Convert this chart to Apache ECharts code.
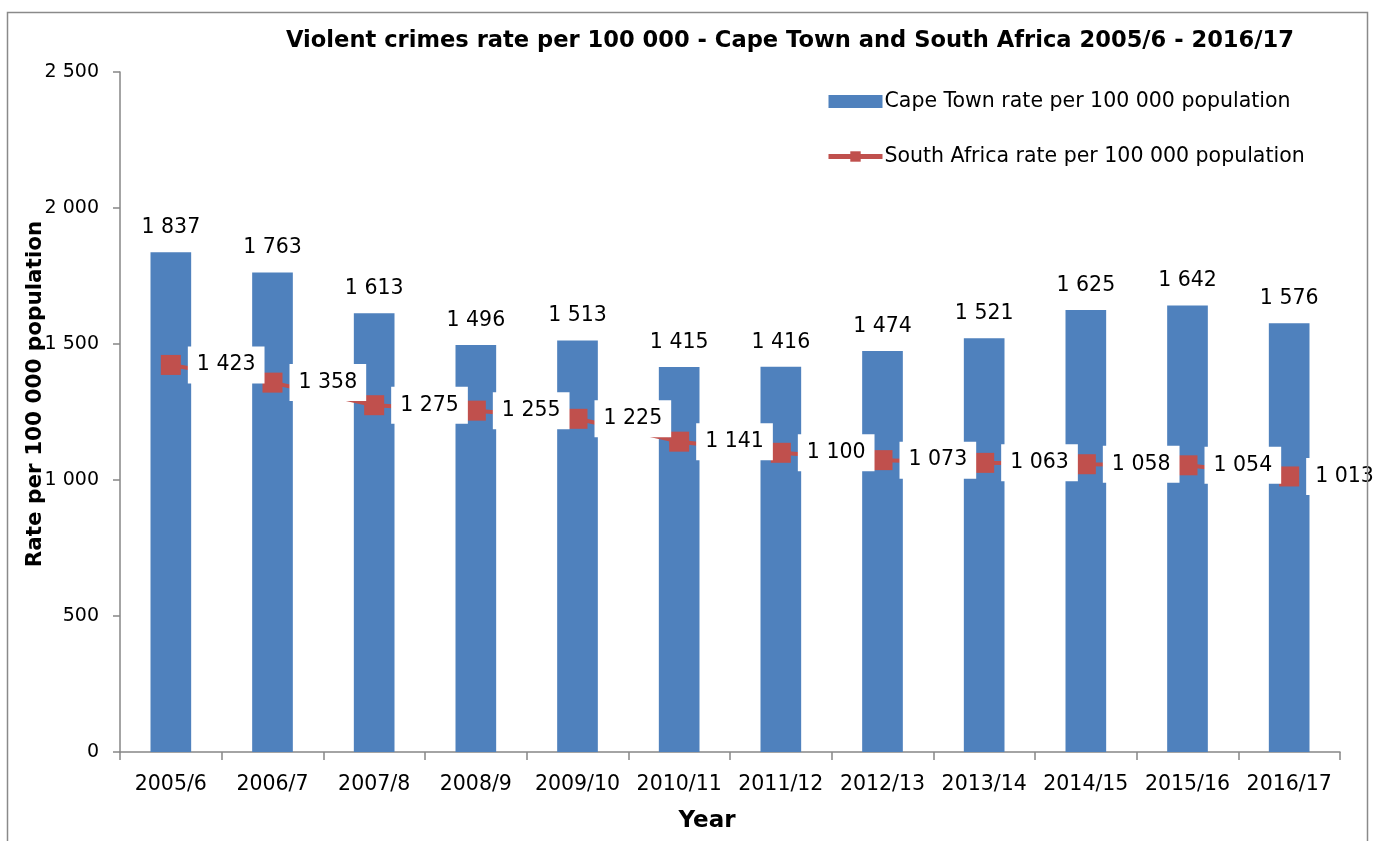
<!DOCTYPE html>
<html><head><meta charset="utf-8">
<script src="https://cdn.jsdelivr.net/npm/echarts@6/dist/echarts.min.js"></script>
<style>html,body{margin:0;padding:0;background:#fff}#c{width:1375px;height:841px}</style>
</head><body><div id="c"></div>
<script>
const categories = ['2005/6','2006/7','2007/8','2008/9','2009/10','2010/11','2011/12','2012/13','2013/14','2014/15','2015/16','2016/17'];
const capeTown = [1837,1763,1613,1496,1513,1415,1416,1474,1521,1625,1642,1576];
const southAfrica = [1423,1358,1275,1255,1225,1141,1100,1073,1063,1058,1054,1013];
const yTicks = [0,500,1000,1500,2000,2500];

const FONT = 'DejaVu Sans';
function fmt(v){ return String(v).replace(/\B(?=(\d{3})+(?!\d))/g,' '); }

const chart = echarts.init(document.getElementById('c'));
chart.setOption({
  animation:false,
  backgroundColor:'#fff',
  textStyle:{fontFamily:FONT},
  title:{
    text:'Violent crimes rate per 100 000 - Cape Town and South Africa 2005/6 - 2016/17',
    left:785, textAlign:'center', top:25,
    textStyle:{fontFamily:FONT,fontSize:22.6,fontWeight:'bold',color:'#000'}
  },
  graphic:[{
    type:'rect', shape:{x:7.5,y:12.5,width:1360,height:900},
    style:{fill:'none',stroke:'#8a8a8a',lineWidth:1.5}, silent:true, z:100
  }],
  legend:{
    orient:'vertical', left:821, top:86, itemWidth:54, itemHeight:13, itemGap:34,
    textStyle:{fontFamily:FONT,fontSize:20.5,color:'#000',padding:[0,0,0,-3]},
    data:[
      {name:'Cape Town rate per 100 000 population', icon:'rect'},
      {name:'South Africa rate per 100 000 population', lineStyle:{width:5,color:'#c0504d'}}
    ]
  },
  grid:{left:120,right:35,top:72,bottom:89,containLabel:false},
  xAxis:{
    type:'category', data:categories,
    name:'Year', nameLocation:'middle', nameGap:58, nameMoveOverlap:false,
    nameTextStyle:{fontFamily:FONT,fontSize:23,fontWeight:'bold',color:'#000',padding:[0,46,0,0]},
    axisLine:{lineStyle:{color:'#868686',width:1.5}},
    axisTick:{show:true,length:8,lineStyle:{color:'#868686',width:1.5},alignWithLabel:false},
    axisLabel:{fontFamily:FONT,fontSize:20.5,color:'#000',margin:22,interval:0}
  },
  yAxis:{
    type:'value', min:0, max:2500, interval:500,
    name:'Rate per 100 000 population', nameLocation:'middle', nameGap:74, nameRotate:90, nameMoveOverlap:false,
    nameTextStyle:{fontFamily:FONT,fontSize:21.5,fontWeight:'bold',color:'#000',padding:[0,0,0,36]},
    axisLine:{show:true,lineStyle:{color:'#868686',width:1.5}},
    axisTick:{show:true,length:7,lineStyle:{color:'#868686',width:1.5}},
    splitLine:{show:false},
    axisLabel:{fontFamily:FONT,fontSize:19,color:'#000',margin:21,
      formatter:function(v){ return yTicks.indexOf(v)>=0 ? fmt(v) : ''; }}
  },
  series:[
    {
      name:'Cape Town rate per 100 000 population', type:'bar', data:capeTown,
      barWidth:'40%', itemStyle:{color:'#4f81bd'},
      label:{show:true,position:'top',distance:14,fontFamily:FONT,fontSize:20.5,color:'#000',
        formatter:function(p){return fmt(p.value);}}
    },
    {
      name:'South Africa rate per 100 000 population', type:'line', data:southAfrica,
      symbol:'rect', symbolSize:20, lineStyle:{color:'#c0504d',width:4},
      itemStyle:{color:'#c0504d'},
      label:{show:true,position:'right',distance:7,fontFamily:FONT,fontSize:20.5,color:'#000',
        backgroundColor:'#fff',padding:[8,9,8,9],
        formatter:function(p){return fmt(p.value);}},
      z:3
    }
  ]
});
</script></body></html>
